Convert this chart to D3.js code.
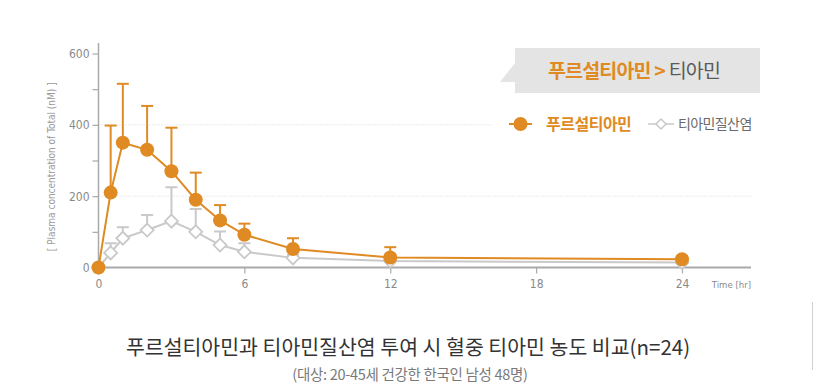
<!DOCTYPE html>
<html>
<head>
<meta charset="utf-8">
<script src="https://cdn.jsdelivr.net/npm/d3@7"></script>
<style>
  body { margin: 0; background: #fff; }
  svg { display: block; }
  .tick text { font-family: 'Liberation Sans Narrow', 'DejaVu Sans Condensed', sans-serif; font-stretch: condensed; fill: #8a8a8a; }
  .kr { font-family: 'Noto Sans CJK KR', 'Noto Sans', sans-serif; }
</style>
</head>
<body>
<div id="chart"></div>
<script>
// 측정 시간 (hr)
const times = [0, 0.5, 1, 2, 3, 4, 5, 6, 8, 12, 24];
// 푸르설티아민 평균 / SD (nM)
const pursulMean = [0, 210, 350, 330, 270, 190, 132, 92, 52, 28, 23];
const pursulSD   = [0, 188, 165, 123, 122, 76, 43, 31, 30, 29, 9];
// 티아민질산염 평균 / SD (nM)
const nitrateMean = [0, 41, 82, 105, 130, 100, 63, 44, 27, 18, 14];
const nitrateSD   = [0, 27, 31, 42, 95, 64, 38, 24, 8, 6, 5];

const yTicks = [0, 100, 200, 300, 400, 500, 600];
const yLabels = [0, 200, 400, 600];
const xTicks = [0, 6, 12, 18, 24];
const gridValues = [200, 400];

const orange = "#df8a22";
const grey = "#c9c9c9";

const width = 813, height = 392;

const svg = d3.select("#chart")
    .append("svg")
    .attr("width", width)
    .attr("height", height);

const x = d3.scaleLinear().domain([0, 24]).range([98.5, 682]);
const y = d3.scaleLinear().domain([0, 600]).range([267.5, 53.5]);

// 그리드 (점선)
svg.append("g")
    .selectAll("line")
    .data(gridValues)
    .join("line")
    .attr("x1", x(0))
    .attr("x2", 751)
    .attr("y1", d => y(d))
    .attr("y2", d => y(d))
    .attr("stroke", "#d6d6d6")
    .attr("stroke-width", 1)
    .attr("stroke-dasharray", "1,2");

// Y축
const yAxis = svg.append("g")
    .attr("transform", `translate(${x(0)},0)`)
    .call(d3.axisLeft(y).tickValues(yTicks).tickSize(6)
        .tickFormat(d => yLabels.includes(d) ? d : ""));
yAxis.select(".domain").remove();
yAxis.selectAll(".tick line").attr("stroke", "#a9a9a9").attr("stroke-width", 1.2);
yAxis.selectAll(".tick text").attr("font-size", 12).attr("x", -9);
yAxis.append("line")
    .attr("y1", 43).attr("y2", y(0) + 1)
    .attr("stroke", "#a9a9a9").attr("stroke-width", 1.5);

// X축
const xAxis = svg.append("g")
    .attr("transform", `translate(0,${y(0)})`)
    .call(d3.axisBottom(x).tickValues(xTicks).tickSize(6));
xAxis.select(".domain").remove();
xAxis.selectAll(".tick line").attr("stroke", "#a9a9a9").attr("stroke-width", 1.2);
xAxis.selectAll(".tick text").attr("font-size", 12).attr("dy", "0.95em");
xAxis.append("line")
    .attr("x1", x(0) - 1).attr("x2", 751)
    .attr("stroke", "#a9a9a9").attr("stroke-width", 2);
xAxis.append("text")
    .attr("x", 751).attr("y", 20)
    .attr("text-anchor", "end")
    .attr("font-size", 9.5)
    .attr("fill", "#8a8a8a")
    .style("font-family", "'Liberation Sans Narrow','DejaVu Sans Condensed',sans-serif")
    .style("font-stretch", "condensed")
    .text("Time [hr]");

// Y축 제목
svg.append("text")
    .attr("transform", `translate(55,${(y(0) + 62) / 2 + 2}) rotate(-90)`)
    .attr("text-anchor", "middle")
    .attr("font-size", 10)
    .attr("fill", "#9a9a9a")
    .style("font-family", "'Liberation Sans Narrow','DejaVu Sans Condensed',sans-serif")
    .style("font-stretch", "condensed")
    .text("[ Plasma concentration of Total (nM) ]");

// 데이터 묶기
const series = [
    { name: "티아민질산염", mean: nitrateMean, sd: nitrateSD, color: grey, shape: "diamond" },
    { name: "푸르설티아민", mean: pursulMean, sd: pursulSD, color: orange, shape: "circle" }
];

const line = d3.line().x(d => x(d.t)).y(d => y(d.v));

series.forEach(s => {
    const pts = times.map((t, i) => ({ t: t, v: s.mean[i], sd: s.sd[i] }));
    const g = svg.append("g");

    // 에러바 (위쪽만)
    const eb = g.selectAll(".eb")
        .data(pts.filter(d => d.sd > 0))
        .join("g");
    eb.append("line")
        .attr("x1", d => x(d.t)).attr("x2", d => x(d.t))
        .attr("y1", d => y(d.v)).attr("y2", d => y(d.v + d.sd))
        .attr("stroke", s.color).attr("stroke-width", 2);
    eb.append("line")
        .attr("x1", d => x(d.t) - 6).attr("x2", d => x(d.t) + 6)
        .attr("y1", d => y(d.v + d.sd)).attr("y2", d => y(d.v + d.sd))
        .attr("stroke", s.color).attr("stroke-width", 2);

    g.append("path")
        .datum(pts)
        .attr("fill", "none")
        .attr("stroke", s.color)
        .attr("stroke-width", 2)
        .attr("d", line);

    if (s.shape === "circle") {
        g.selectAll("circle")
            .data(pts)
            .join("circle")
            .attr("cx", d => x(d.t))
            .attr("cy", d => y(d.v))
            .attr("r", 7)
            .attr("fill", s.color);
    } else {
        g.selectAll("path.mk")
            .data(pts)
            .join("path")
            .attr("class", "mk")
            .attr("transform", d => `translate(${x(d.t)},${y(d.v)})`)
            .attr("d", "M0,-6.5L6.5,0L0,6.5L-6.5,0Z")
            .attr("fill", "#fff")
            .attr("stroke", s.color)
            .attr("stroke-width", 1.8);
    }
});

// 강조 박스 (말풍선)
const callout = svg.append("g");
callout.append("rect")
    .attr("x", 515).attr("y", 48)
    .attr("width", 245).attr("height", 45)
    .attr("fill", "#e4e4e4");
callout.append("path")
    .attr("d", "M515,63L500,82L515,82Z")
    .attr("fill", "#e4e4e4");
const ct = callout.append("text")
    .attr("class", "kr")
    .attr("x", 634).attr("y", 77.5)
    .attr("text-anchor", "middle")
    .attr("font-size", 19.5)
    .attr("letter-spacing", -0.8);
ct.append("tspan").attr("fill", orange).attr("font-weight", "bold").text("푸르설티아민 > ");
ct.append("tspan").attr("fill", "#5a5a5a").text("티아민");

// 범례
const legend = svg.append("g");
legend.append("rect")
    .attr("x", 492).attr("y", 108)
    .attr("width", 268).attr("height", 32)
    .attr("fill", "#fff");
legend.append("line")
    .attr("x1", 509).attr("x2", 532).attr("y1", 124).attr("y2", 124)
    .attr("stroke", orange).attr("stroke-width", 2);
legend.append("circle")
    .attr("cx", 520.5).attr("cy", 124).attr("r", 7)
    .attr("fill", orange);
legend.append("text")
    .attr("class", "kr")
    .attr("x", 546).attr("y", 129.5)
    .attr("font-size", 16)
    .attr("font-weight", "bold")
    .attr("letter-spacing", -0.5)
    .attr("fill", orange)
    .text("푸르설티아민");
legend.append("line")
    .attr("x1", 648).attr("x2", 674).attr("y1", 124).attr("y2", 124)
    .attr("stroke", grey).attr("stroke-width", 1.5);
legend.append("path")
    .attr("transform", "translate(661,124)")
    .attr("d", "M0,-5L5,0L0,5L-5,0Z")
    .attr("fill", "#fff")
    .attr("stroke", grey)
    .attr("stroke-width", 1.5);
legend.append("text")
    .attr("class", "kr")
    .attr("x", 678).attr("y", 129)
    .attr("font-size", 14)
    .attr("letter-spacing", -0.6)
    .attr("fill", "#6a6a6a")
    .text("티아민질산염");

// 제목
svg.append("text")
    .attr("class", "kr")
    .attr("x", 408).attr("y", 355)
    .attr("text-anchor", "middle")
    .attr("font-size", 20.5)
    .attr("fill", "#333")
    .text("푸르설티아민과 티아민질산염 투여 시 혈중 티아민 농도 비교(n=24)");
svg.append("text")
    .attr("class", "kr")
    .attr("x", 410).attr("y", 380)
    .attr("text-anchor", "middle")
    .attr("font-size", 14.5)
    .attr("fill", "#7a7a7a")
    .attr("letter-spacing", -0.3)
    .text("(대상: 20-45세 건강한 한국인 남성 48명)");

// 오른쪽 가장자리 선
svg.append("line")
    .attr("x1", 812.5).attr("x2", 812.5).attr("y1", 302).attr("y2", 370)
    .attr("stroke", "#d0d0d0").attr("stroke-width", 1);
</script>
</body>
</html>
